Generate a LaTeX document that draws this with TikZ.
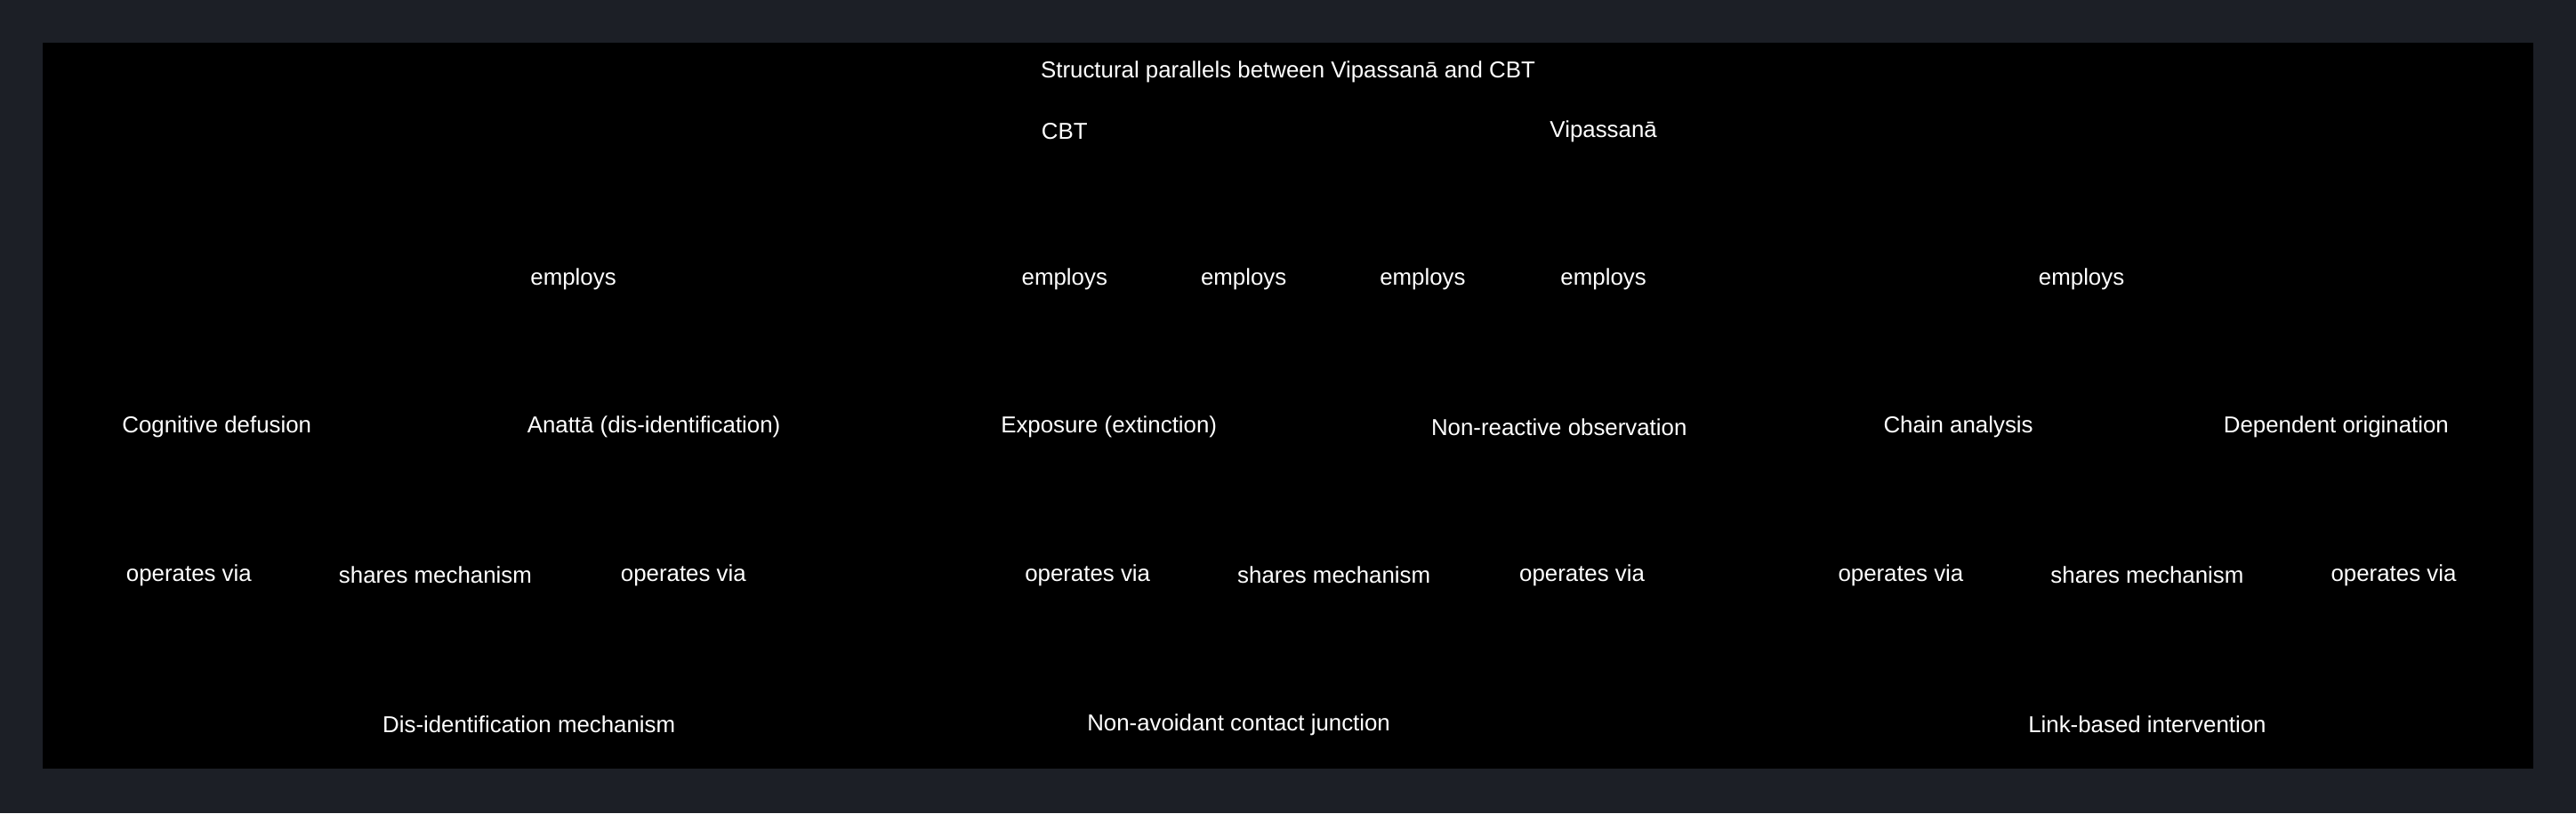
\documentclass[tikz,border=0pt]{standalone}
\usepackage{fontspec}
\setmainfont{Liberation Sans}
\definecolor{frame}{HTML}{1C1F26}

\begin{document}
\begin{tikzpicture}[x=1pt,y=-1pt,
  lbl/.style = {text=white, font=\fontsize{14}{16}\selectfont, inner sep=0pt}
]
\fill[frame] (0,0) rectangle (1568,495);
\fill[black] (26,26) rectangle (1542,468);
\useasboundingbox (0,0) rectangle (1568,495);

\node[lbl] (title) at (784,44) {Structural parallels between Vipassanā and CBT};
\node[lbl] (cbt) at (648,80) {CBT};
\node[lbl] (vip) at (976,80) {Vipassanā};

\foreach \x [count=\i] in {349,648,757,866,976,1267}
  \node[lbl] (emp\i) at (\x,170) {employs};

\node[lbl] (defusion) at (132,260) {Cognitive defusion};
\node[lbl] (anatta) at (398,260) {Anattā (dis-identification)};
\node[lbl] (exposure) at (675,260) {Exposure (extinction)};
\node[lbl] (nonreact) at (949,260) {Non-reactive observation};
\node[lbl] (chain) at (1192,260) {Chain analysis};
\node[lbl] (depend) at (1422,260) {Dependent origination};

\foreach \x/\t [count=\i] in {115/operates via,265/shares mechanism,416/operates via,
    662/operates via,812/shares mechanism,963/operates via,
    1157/operates via,1307/shares mechanism,1457/operates via}
  \node[lbl] (via\i) at (\x,350) {\t};

\node[lbl] (disid) at (322,441) {Dis-identification mechanism};
\node[lbl] (contact) at (754,441) {Non-avoidant contact junction};
\node[lbl] (link) at (1307,441) {Link-based intervention};
\end{tikzpicture}
\end{document}
